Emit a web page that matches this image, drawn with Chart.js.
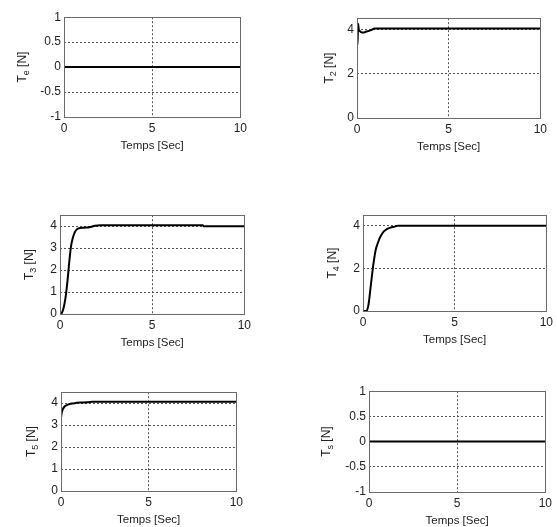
<!DOCTYPE html>
<html>
<head>
<meta charset="utf-8">
<script src="https://cdn.jsdelivr.net/npm/chart.js@4.4.0/dist/chart.umd.min.js"></script>
<style>
  html, body { margin: 0; padding: 0; background: #fff; overflow: hidden; }
  #page { position: relative; width: 557px; height: 527px; }
  #page canvas { position: absolute; }
</style>
</head>
<body>
<div id="page"></div>
<script>
// time axis [s]
const xTicks = [0, 5, 10];

// T_e : stays at zero
const tE = [0, 10];
const Te = [0, 0];

// T_2 : short spike at start, settles at 4
const t2 = [0, 0.03, 0.06, 0.1, 0.15, 0.25, 0.35, 0.5, 0.65, 0.8, 0.95, 10];
const T2 = [4.2, 3.3, 4.25, 3.98, 3.92, 3.86, 3.85, 3.9, 3.93, 3.98, 4.03, 4.03];

// T_3 : rise from 0, small step down near 7.8 s
const t3 = [0, 0.1, 0.2, 0.3, 0.4, 0.5, 0.6, 0.7, 0.8, 0.9, 1.0, 1.3, 1.6, 1.9, 2.2, 7.75, 7.8, 10];
const T3 = [0, 0.05, 0.3, 0.75, 1.45, 2.35, 3.1, 3.48, 3.72, 3.84, 3.9, 3.93, 3.95, 4.02, 4.04, 4.04, 4.0, 4.0];

// T_4 : slower rise from 0
const t4 = [0, 0.2, 0.3, 0.4, 0.5, 0.6, 0.7, 0.8, 0.9, 1.0, 1.15, 1.3, 1.5, 1.7, 1.9, 10];
const T4 = [0, 0.02, 0.3, 1.0, 1.75, 2.4, 2.9, 3.17, 3.4, 3.57, 3.75, 3.85, 3.92, 3.96, 4.0, 4.0];

// T_5 : starts near 3.35, settles just above 4
const t5 = [0, 0.05, 0.1, 0.2, 0.3, 0.5, 0.7, 0.9, 1.2, 1.5, 1.8, 10];
const T5 = [3.35, 3.6, 3.72, 3.85, 3.9, 3.96, 3.99, 4.02, 4.03, 4.04, 4.06, 4.06];

// T_s : stays at zero
const tS = [0, 10];
const Ts = [0, 0];

const yTicksSym = [-1, -0.5, 0, 0.5, 1];
const yTicksTwo = [0, 2, 4];
const yTicksOne = [0, 1, 2, 3, 4];

const panels = [
  { sub: 'e', t: tE, v: Te, yMin: -1, yMax: 1,   yTicks: yTicksSym, box: [64, 15, 179, 102],  titleOff: 41 },
  { sub: '2', t: t2, v: T2, yMin: 0,  yMax: 4.5, yTicks: yTicksTwo, box: [357, 16, 186, 102], titleOff: 27 },
  { sub: '3', t: t3, v: T3, yMin: 0,  yMax: 4.5, yTicks: yTicksOne, box: [60, 213, 187, 101], titleOff: 30 },
  { sub: '4', t: t4, v: T4, yMin: 0,  yMax: 4.5, yTicks: yTicksTwo, box: [363, 213, 186, 98], titleOff: 30 },
  { sub: '5', t: t5, v: T5, yMin: 0,  yMax: 4.5, yTicks: yTicksOne, box: [61, 390, 178, 101], titleOff: 29 },
  { sub: 's', t: tS, v: Ts, yMin: -1, yMax: 1,   yTicks: yTicksSym, box: [369, 389, 179, 103], titleOff: 42 }
];

const FONT = '"Liberation Sans", Arial, sans-serif';
// x title is drawn from the bottom of the x scale, so X_H sets where it sits
const Y_W = 50, X_H = 36, PAD_T = 8, PAD_R = 8;

// box around the plot area + rotated "T_x [N]" label with a real subscript
const frame = {
  id: 'frame',
  afterDraw(chart, args, opts) {
    const { ctx, chartArea: a } = chart;
    ctx.save();
    ctx.strokeStyle = '#6a6a6a';
    ctx.lineWidth = 1;
    ctx.strokeRect(Math.round(a.left) + 0.5, Math.round(a.top) + 0.5,
                   Math.round(a.right - a.left), Math.round(a.bottom - a.top));

    ctx.fillStyle = '#222';
    ctx.textBaseline = 'middle';
    ctx.font = '12px ' + FONT;
    const wT = ctx.measureText('T').width;
    const wN = ctx.measureText(' [N]').width;
    ctx.font = '9px ' + FONT;
    const wS = ctx.measureText(opts.sub).width;
    const total = wT + wS + wN;
    ctx.translate(a.left - opts.off, (a.top + a.bottom) / 2);
    ctx.rotate(-Math.PI / 2);
    let x = -total / 2;
    ctx.font = '12px ' + FONT;
    ctx.fillText('T', x, 0);
    ctx.font = '9px ' + FONT;
    ctx.fillText(opts.sub, x + wT, 4);
    ctx.font = '12px ' + FONT;
    ctx.fillText(' [N]', x + wT + wS, 0);
    ctx.restore();
  }
};

const page = document.getElementById('page');

panels.forEach(p => {
  const [L, T, W, H] = p.box;
  const canvas = document.createElement('canvas');
  canvas.width = Y_W + W + PAD_R;
  canvas.height = PAD_T + H + X_H;
  canvas.style.left = (L - Y_W) + 'px';
  canvas.style.top = (T - PAD_T) + 'px';
  canvas.style.width = canvas.width + 'px';
  canvas.style.height = canvas.height + 'px';
  page.appendChild(canvas);

  const inner = (v, lo, hi) => v > lo && v < hi;

  new Chart(canvas.getContext('2d'), {
    type: 'line',
    data: {
      datasets: [{
        data: p.t.map((x, i) => ({ x, y: p.v[i] })),
        borderColor: '#000',
        borderWidth: 2,
        pointRadius: 0,
        cubicInterpolationMode: 'monotone',
        fill: false
      }]
    },
    options: {
      responsive: false,
      animation: false,
      devicePixelRatio: 1,
      layout: { padding: { top: PAD_T, right: PAD_R, left: 0, bottom: 0 } },
      plugins: {
        legend: { display: false },
        tooltip: { enabled: false },
        frame: { sub: p.sub, off: p.titleOff }
      },
      scales: {
        x: {
          type: 'linear',
          min: 0,
          max: 10,
          afterBuildTicks: s => { s.ticks = xTicks.map(value => ({ value })); },
          afterFit: s => { s.height = X_H; },
          grid: {
            drawTicks: false,
            lineWidth: 1,
            color: c => (c.tick && inner(c.tick.value, 0, 10)) ? '#555' : 'rgba(0,0,0,0)'
          },
          border: { display: false, dash: [2, 2] },
          ticks: {
            padding: 4,
            maxRotation: 0,
            color: '#222',
            font: { family: FONT, size: 12 },
            callback: v => String(v)
          },
          title: {
            display: true,
            text: 'Temps [Sec]',
            color: '#222',
            font: { family: FONT, size: 11.5 },
            padding: { top: 0, bottom: 0 }
          }
        },
        y: {
          type: 'linear',
          min: p.yMin,
          max: p.yMax,
          afterBuildTicks: s => { s.ticks = p.yTicks.map(value => ({ value })); },
          afterFit: s => { s.width = Y_W; },
          grid: {
            drawTicks: false,
            lineWidth: 1,
            color: c => (c.tick && inner(c.tick.value, p.yMin, p.yMax)) ? '#555' : 'rgba(0,0,0,0)'
          },
          border: { display: false, dash: [2, 2] },
          ticks: {
            padding: 3,
            color: '#222',
            font: { family: FONT, size: 12 },
            callback: v => String(v)
          }
        }
      }
    },
    plugins: [frame]
  });
});
</script>
</body>
</html>
